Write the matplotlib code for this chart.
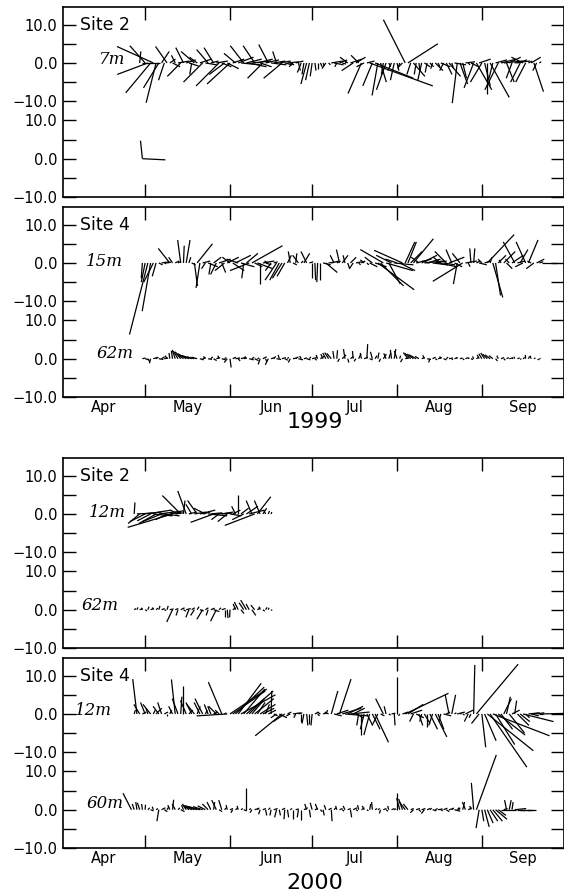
import numpy as np
import matplotlib.pyplot as plt
from matplotlib.collections import LineCollection

# vertical shift of the shallow record inside each panel
OFFSET = 25

month_names = ['Apr', 'May', 'Jun', 'Jul', 'Aug', 'Sep']
month_starts = [0, 30, 61, 91, 122, 153, 183]   # days since 1 April

ytick_pos = [-10, -5, 0, 5, 10, 15, 20, 25, 30, 35]
ytick_lab = ['\u221210.0', '', '0.0', '', '10.0', '\u221210.0', '', '0.0', '', '10.0']

# stick vectors (u east, v north), one per day starting at *_start (day 0 = 1 April)
site2_1999_7m_start = 28
site2_1999_7m_uv = [
    (0.3, 3.0), (4.5, 0), (-4, 4.5), (-8, -3), (-6.5, -7.8), (-9.5, 4.3), (-2.6, -10.4), (-4, -6.5), (2, 3), (-1.5, -4.5),
    (-3, 4.3), (1.5, 1), (2, -1), (-1, 2), (3, 0.5), (-3.5, -3.5), (-2, 4), (2.5, 0.8), (2.5, -0.8), (-0.5, -3),
    (-3.5, 3), (-2, 1.5), (3, 1), (-5, -5), (3, -0.5), (-3, 3.5), (2, 0.5), (-2.5, 4), (3, 0.5), (-6, -6),
    (2.5, -1), (-4, -3), (3, -1.5), (-6, -5.5), (3, 1), (-3, 2.5), (4, 1.5), (5, -0.5), (-3.5, 4.5), (4, 1),
    (4.5, -1), (5, 0.5), (-3, 4.5), (4, 1), (3, -1), (-4, -4), (3.5, 0.8), (-2.5, 4.8), (4, -0.5), (3, 0.5),
    (-1, 3), (3, 0.5), (-4.8, -4), (2, -0.5), (3, 0.3), (1, -0.5), (-1, -1), (2, 0.5), (0.5, -2), (-1, -2.5),
    (-0.5, -3), (-1.5, -5.5), (-1, -4.5), (-0.5, -3.5), (0.3, -2), (0, -1.5), (0.5, -1), (0.3, -0.8), (-1, -1.5), (0.5, -0.5),
    (3, 0.5), (2.5, -0.5), (-0.5, -1), (2, 0.8), (1, -0.3), (0.5, 0.3), (-2, 1.5), (3, 1), (-3, -2), (2.5, 1.5),
    (-2, 2), (-3.5, -8), (-2, -1), (2, 0.5), (16.5, -6), (-2.5, -6), (10, -4), (-1.5, -8.5), (1.5, -5), (-0.5, -3),
    (-2.5, -7), (0.5, -1), (-1, -2), (-1, -4.5), (0.5, -2), (-0.5, -1.5), (-1, -1), (-5.7, 11.3), (7.8, 5), (-1, -3),
    (3, -3.5), (-0.5, -3), (0.3, -2), (-1, -4.5), (1.5, -1), (-0.5, -2.5), (1, -1), (-0.5, -1.5), (2, -2), (0.5, -1),
    (2.5, -1), (-1, -2), (1.5, -3), (3, -3.5), (0.5, -1.5), (3, -0.5), (-1.3, -10.5), (2, -5.5), (1, -4), (2.5, 0.3),
    (0.5, -0.5), (2, -1), (-2.5, -6.5), (4, -7), (3, 1), (-3, -5), (1.5, -6), (0, -8), (5, -9), (-1, -4),
    (3, 0.8), (-3.5, -7), (4, 1), (5, 0.5), (2, -5), (3, 1.5), (-1.5, -4), (4, 0.5), (2.5, 0.8), (-2.5, -5),
    (-3, 1.5), (-2.6, -5), (1, 0.5), (2.5, 1.5), (2.5, -7.5), (-1, -2), (0.5, 0.3),
]

# deep instrument at site 2 in 1999: only two records
site2_1999_deep_days = [29, 29]
site2_1999_deep_uv = [(-0.5, 4.7), (6, -0.3)]

site4_1999_15m_start = 29
site4_1999_15m_uv = [
    (-0.3, -4), (-1, -5), (-4.8, -18.7), (-2.2, -12.6), (-2.5, -5), (-1, -3.5), (1, -0.5), (2, 0.3), (0.5, 0), (1, 0.2),
    (-3, 3.8), (-1, 1.5), (1, 0.5), (0.5, 0.3), (-0.8, 6), (0.2, 4.5), (1, 6), (0.5, 1.5), (1, -0.5), (0.8, -6),
    (4, 5), (-1, -6.5), (2, 0.5), (-1, -1.5), (2.5, -1), (-0.5, -3), (2, 1.5), (-1.5, -3), (3, 1), (1, -2.5),
    (-2.5, -2), (3, 1.5), (-2, 1.5), (3, -2), (4, 2), (-3, 1), (3.5, -1), (-0.5, -4), (3, 2.5), (-5, -2),
    (8, 4.5), (2, -1), (4, -1.5), (0, -5.5), (3, 0.5), (1.5, -0.5), (-1, 0.5), (-1.5, -2), (1, 0.3), (-3, -4.5),
    (-2.5, -4.5), (-2.5, -4), (-2, -3.5), (1, 2), (-0.5, 3), (1, -0.5), (0.3, 2.5), (-1.5, 2), (0.5, 0.5), (1.5, 2.5),
    (-1.5, 3), (1, 0.3), (0, -4), (0.2, -4.5), (-0.2, -5), (0, -4.5), (2, -0.5), (3, -2.5), (1.5, 0.2), (2, 0.5),
    (-1, 2), (1, 0.5), (-0.8, 3.5), (1.5, 2), (-0.5, 2), (0.5, -1.5), (1.5, 1.5), (-1, -1.5), (1.5, 0.3), (0.5, -0.5),
    (1, 0.5), (-1, 0.8), (0.5, -0.5), (2, -1), (-2, 1.5), (3, -1), (9.5, -7), (6, -6), (-6, 3.5), (7, -2),
    (3, -5.5), (-4, 2), (5, -0.5), (-3, 1), (4, -2), (-7.4, 3.3), (2.5, 5.5), (2.2, 5.5), (3, 3), (5.2, 6.3),
    (4, 1), (-2, 1.5), (4, 2), (5, 0.5), (3.5, 1), (-2, 0.5), (4, -0.5), (3, 0.5), (5, -1), (-2, 1.5),
    (3, -0.5), (-3, 3), (4, 1.5), (-1.5, 3.5), (2, -1), (-1, -5.5), (-2, 2.5), (-7.8, -4.8), (3, 0.5), (0.5, -1),
    (-0.3, 3.8), (0.3, 3.8), (1, 0.5), (2, -0.5), (-1, 1), (1.5, 0.5), (7, 7.4), (0.5, 1.5), (2.6, -9), (1.3, -8.5),
    (2, 2), (-0.5, 0.8), (3, 3), (1.5, -1.5), (-1, 1), (3, 2), (-3, 5.5), (2, 0.5), (2, 3.5), (-2, -1),
    (-2.5, 5.5), (2.5, 6), (-1, 0.5), (-2, -1.5), (2, 1), (1, 0.3), (4, 0),
]

site4_1999_62m_start = 29
site4_1999_62m_uv = [
    (0.8, 0.2), (1, -0.3), (0.5, -0.8), (-0.3, -1.2), (1, 0.3), (0.6, 0.4), (1.2, -0.2), (0.8, 0.5), (1, 0.2), (-0.5, 0.8),
    (-0.2, 1.5), (-0.3, 2), (-0.8, 2.3), (-1.2, 2), (-1.5, 1.8), (-2, 1.5), (-2.2, 1.3), (-2.5, 1), (-2.5, 0.8), (-2, 0.5),
    (-1.5, 0.4), (1, -0.3), (0.8, 0.3), (-0.5, 0.6), (1, -0.2), (0.5, 0.5), (0.8, -0.5), (1, 0.3), (-0.3, 0.8), (1, -0.3),
    (0.5, 0.3), (-0.8, -1), (0.3, -2.3), (0.8, 0.4), (1.2, 0.2), (0.5, -0.6), (1, 0.3), (0.8, 0.2), (-0.4, 0.6), (1.2, -0.3),
    (0.6, 0.4), (1, -0.5), (0.5, 0.2), (-0.5, -1.5), (1, 0.5), (0.3, -0.8), (-0.8, -1.6), (1, 0.3), (0.5, 0.6), (1.2, -0.2),
    (-0.3, 1), (1, 0.3), (0.8, -0.4), (0.3, 0.4), (-0.5, -1), (1, 0.2), (0.7, 0.5), (1.2, -0.3), (-0.4, 0.7), (0.8, 0.2),
    (1, -0.3), (0.4, 0.5), (1.2, 0.3), (0.5, -0.4), (-0.4, 1), (1, 0.6), (-0.6, 1.2), (-0.8, 1.5), (-1, 1.6), (-1.2, 1.4),
    (-0.3, 2), (0.2, 2.2), (-0.5, -0.8), (1, 1), (-0.4, 2.5), (0.3, -1), (0.8, 0.6), (-0.2, 2), (-0.5, -0.7), (0.6, 1.3),
    (-0.3, 1.5), (1, 0.4), (0.2, 3.8), (0.8, -0.3), (-0.5, 1.8), (0.5, 0.8), (0.3, 1.6), (-0.4, -0.8), (0.8, 1.2), (-0.6, 1.4),
    (0.5, 1.5), (-0.3, 2.3), (0.4, 2.5), (-0.7, 2), (0.2, 0.8), (-0.5, -0.9), (1, 0.2), (-1.2, 1.6), (-1.5, 1.4), (-1.6, 1.2),
    (-1.8, 1), (-1, 0.6), (0.8, 0.3), (-0.4, 0.9), (1, -0.2), (-0.3, -1), (0.8, 0.4), (0.5, -0.3), (1, 0.3), (-0.3, 0.6),
    (0.8, -0.3), (0.5, 0.4), (1, 0.2), (0.3, -0.3), (0.8, 0.3), (-0.2, 0.3), (0.7, 0.2), (0.4, -0.3), (0.8, 0.3), (0.3, 0.2),
    (0.6, -0.2), (-0.3, 0.6), (0.5, 0.3), (-0.5, 1), (-0.8, 1.3), (-1, 1.5), (-1.2, 1.2), (-1.3, 1), (-1, 0.8), (0.5, -0.6),
    (-0.4, 0.8), (0.8, 0.3), (0.4, -0.4), (0.6, 0.3), (1, 0.2), (0.3, 0.2), (-0.2, 0.5), (0.6, 0.2), (0.3, -0.2), (0.5, 0.3),
    (-0.1, 1), (0.3, 0.6), (-0.3, 0.8), (0.4, 0.2), (0.6, 0), (0.3, 0.1),
]

site2_2000_12m_start = 26
site2_2000_12m_uv = [
    (0.2, 3), (4, 0.2), (-3, -2.5), (5, 0.5), (-4, -2), (6, 1), (-3.5, -1.8), (5, -0.5), (-4.5, -2.5), (6.5, 0.8),
    (-5, -2), (4, -0.5), (-3, -1.5), (3, 0.5), (-11.7, -3.5), (2, 0.3), (-2, 1), (-4.8, 4.8), (0.4, 3.5), (-2.2, 6),
    (2, 0.5), (-1.5, 2.5), (3, 0.5), (-2.5, 3.5), (4, 1), (2, 0.5), (-3, 1.5), (5, -0.5), (3, 0.3), (-6, -2.2),
    (4, 0.2), (-2, -1.5), (3, 0.5), (1, 0.2), (-2.5, -2), (3, -0.5), (2, 1), (-1, 2), (0, 5), (2, 1.5),
    (-3, -1.5), (3, 2), (4, 1), (-1.5, 3.5), (-7.8, -3), (3.5, 4.5), (-1.5, 3.5), (1, 1.5), (-0.5, 1), (0.3, 0.8),
    (0.2, 0.5),
]

site2_2000_62m_start = 26
site2_2000_62m_uv = [
    (0.5, 0.3), (0.3, 0.6), (0.8, 0.2), (-0.3, 0.5), (0.5, -0.3), (0.3, 0.8), (0.8, 0.3), (-0.2, 0.6), (0.5, 0.4), (0.3, 1),
    (0.8, 0.3), (0.5, -0.2), (0.3, 1), (1, 0.2), (-1.5, -3.2), (0.8, 0.3), (-0.5, -1.5), (1, 0.5), (0.6, -0.4), (1.2, 0.3),
    (-0.8, -2), (0.8, 0.5), (-1, -1.5), (0.5, 0.8), (1, -0.3), (-1.5, -2.5), (0.8, 0.5), (-0.5, -1.5), (1, 0.4), (1.5, -0.5),
    (-1.5, -3), (0.5, 0.5), (1, 0.3), (0, -2), (0.2, -2.2), (-0.1, -2), (0.8, 0.5), (-0.6, 1.5), (-1, 2), (0.8, -1),
    (-1.2, 1.8), (-1.5, 2.5), (-0.8, 1.5), (1, -1.5), (-1, 1.2), (0.8, 0.5), (-0.3, 0.8), (0.5, -0.4), (0.4, 0.6), (0.2, 0.5),
    (0.3, -0.2),
]

site4_2000_12m_start = 26
site4_2000_12m_uv = [
    (0.3, 1), (-1.1, 9.1), (-1.5, 2.5), (1, 0.5), (-1.2, 3), (-0.5, 1.5), (-2, 2.5), (0.5, 1), (1.5, 1.5), (-1.5, 2),
    (-1, 3), (1, 0.5), (0, -0.5), (0.5, 1), (-1, 2), (-1, 9), (-1.5, 4), (0.3, 4.5), (0, 7.4), (-1.5, 3.5),
    (1, 1), (-1.5, 3), (-2, 2.5), (0.8, 2), (-1.5, 3), (-2, 4), (0.5, 1), (-1, 2.5), (-0.8, 2), (1, 0.5),
    (-2, 2), (-1, 1), (-3.5, 8.3), (0.5, 0.3), (-8, -0.5), (9.6, 6.5), (8.5, 6), (7.5, 7), (6, 8), (9, 5),
    (5.5, 6.5), (7, 6), (4, 4), (3, 3.5), (5, 4), (2, 3), (4, 2.5), (3, 1.5), (1, 2.5), (2, 1),
    (0.2, 6), (1, -0.5), (-1.5, -1), (2, -1), (-7, -5.7), (-3, -2), (1, 0.5), (-1, -0.5), (2, 0.3), (-0.5, -1),
    (1, 0.3), (0, -2), (-0.5, -2.5), (0.3, -3), (0, -2.5), (-0.3, -3), (1, 0.5), (0.5, -0.5), (-0.8, 0.5), (1, 0.3),
    (0.5, 1), (-1, 0.5), (1.7, 6), (2, -0.5), (3, 1), (3, 9.1), (5, 1.5), (6, -0.5), (4, 2), (5, 0.5),
    (3, 1.5), (2, -1), (-0.5, -3), (0, -5.5), (-1, -4), (1.5, -3), (-1.5, -5.5), (2, -4), (3.5, -7.4), (-1.5, -3),
    (1, -0.5), (-2, 4), (-0.5, 2), (0.5, -0.3), (1, 0.2), (0.2, -3), (0, 9.6), (-0.3, -0.5), (1.5, 0.5), (11.3, 5.4),
    (4, 2.5), (3, 1), (-1, -2), (2, -1), (1, -3), (-0.5, -2), (1.5, -2.5), (0, -3.5), (2, -4), (-1, -3),
    (3, -6), (1.5, -4), (-0.5, -2), (2, -0.5), (1, 0.5), (-1, 5), (1, 5), (0.5, 0.3), (2, 0.5), (0.5, 0.2),
    (0.5, -0.3), (2, 1), (-1, -2), (-0.5, -1), (0.3, 12.8), (10.9, 13), (-2, -2.5), (1, -8.7), (3, -7), (12, -9.6),
    (9.6, -13.9), (14.8, -5.7), (5, -8), (7, -5.5), (3, -4), (2, 4), (1, 4.5), (4, -5), (2, 1), (0.5, 3.5),
    (3, -3), (2.5, -2), (8, -2), (1, -1), (3, 0.3), (2, -0.5), (1, 0.2), (2, 0.3), (1, 0), (8, 0.2),
]

site4_2000_60m_start = 25
site4_2000_60m_uv = [
    (-2.2, 4.3), (-0.5, 1.5), (-0.3, 2), (-0.6, 1.8), (-0.2, 1.5), (0.1, 1.3), (0.5, 0.5), (0.8, -0.3), (-0.3, 0.8), (0.5, 0.3),
    (-0.5, -3), (1, 0.5), (0.8, -0.5), (0.5, 0.8), (-0.5, 1.2), (0.3, 2.6), (-0.8, 1.5), (0.5, 0.5), (1, -0.5), (-0.5, 1.2),
    (-1, 1.5), (-1.5, 1.2), (-2, 1), (-2.5, 1), (-3, 1), (-3, 0.8), (-2.5, 0.8), (-2, 1), (-1.5, 1.5), (-1, 2),
    (0.3, 2), (-1.2, 2.5), (0.8, -0.5), (-0.8, 2.5), (0.5, 0.5), (-0.3, 1.2), (0.8, 0.3), (-0.5, -0.8), (0.6, 0.4), (-0.3, 1),
    (0.5, 0.3), (0.8, -0.3), (0, 5.7), (0.5, 0.3), (-0.5, -0.8), (1, 0.3), (0.5, 0.5), (-0.4, -1.2), (0.8, 0.3), (0.3, -1.5),
    (0.5, 0.5), (-0.3, -1.5), (1, 0.3), (-0.5, -2), (0.3, -1.5), (0.8, 0.4), (-0.2, -2.5), (0.3, -2), (0.5, 0.3), (0, -2.5),
    (0.8, 0.2), (-0.3, -2), (0, -2.8), (1, 0.5), (-0.5, 1.5), (0.3, -2), (-0.5, 1.8), (0.8, 0.3), (-0.6, 1.5), (0.5, -0.5),
    (0.3, -1.5), (-0.4, 1.2), (0.8, 0.4), (0.2, -3), (0.5, 0.5), (-0.3, 1), (0.8, 0.3), (0.5, -0.4), (-0.5, 1), (0.8, 0.3),
    (0.3, -2), (1, 0.5), (0.5, -0.3), (-0.3, 1.2), (0.8, 0.5), (-0.5, 1), (0.4, -0.3), (0.3, 1.5), (-0.2, 2), (0.5, 0.3),
    (0.5, 0.3), (-0.3, -1), (0.8, 0.3), (0.5, -0.4), (-0.3, 1), (0.8, 0.3), (0.5, 0.2), (0, 4.3), (-0.8, 3), (-1, 2.8),
    (-1.5, 2), (-1.2, 1.5), (0.8, 0.3), (-0.8, -0.8), (1, 0.3), (0.5, -0.5), (1, 0.3), (-0.8, -1), (0.8, 0.3), (0.5, 0.4),
    (1, -0.3), (0.6, 0.3), (1.2, 0.2), (0.5, -0.3), (1, 0.4), (0.8, -0.5), (1.2, 0.3), (0.5, 0.5), (1.5, -0.4), (0.8, 0.5),
    (-0.5, 0.5), (0.5, 2), (-0.8, 2), (1, 0.5), (-0.3, 1), (-0.6, 7), (5.2, 14.3), (-0.8, -4.8), (0.5, -3), (1.2, -4.5),
    (1.5, -3.5), (2, -3), (2.5, -3), (3, -2.5), (2, -1.5), (4, 0), (1, 0.3), (-0.5, 2.5), (0.5, 2.5), (0.3, 2),
    (3, 0.3), (2, 0), (1, 0), (2, 0), (1, 0), (2, 0), (0.5, 0),
]


def days_from(start, uv):
    return start + np.arange(len(uv))


def sticks(ax, days, uv, base):
    # scale u so that a stick keeps its true direction on screen
    bb = ax.get_window_extent()
    x0, x1 = ax.get_xlim()
    y0, y1 = ax.get_ylim()
    k = (bb.height / (y1 - y0)) / (bb.width / (x1 - x0))
    segs = [[(t, base), (t + k * u, base + v)] for t, (u, v) in zip(days, uv)]
    ax.add_collection(LineCollection(segs, colors='k', linewidths=0.9))


fig = plt.figure(figsize=(5.64, 8.96), dpi=100)
W, H = 564.0, 896.0

panels = [
    dict(top=7, site='Site 2', labels=False,
         series=[(days_from(site2_1999_7m_start, site2_1999_7m_uv), site2_1999_7m_uv, OFFSET),
                 (site2_1999_deep_days, site2_1999_deep_uv, 0)],
         depths=[('7m', 18, 26)]),
    dict(top=207, site='Site 4', labels=True,
         series=[(days_from(site4_1999_15m_start, site4_1999_15m_uv), site4_1999_15m_uv, OFFSET),
                 (days_from(site4_1999_62m_start, site4_1999_62m_uv), site4_1999_62m_uv, 0)],
         depths=[('15m', 15, 25.5), ('62m', 19, 1.3)]),
    dict(top=458, site='Site 2', labels=False,
         series=[(days_from(site2_2000_12m_start, site2_2000_12m_uv), site2_2000_12m_uv, OFFSET),
                 (days_from(site2_2000_62m_start, site2_2000_62m_uv), site2_2000_62m_uv, 0)],
         depths=[('12m', 16.2, 25.5), ('62m', 13.5, 1.0)]),
    dict(top=658, site='Site 4', labels=True,
         series=[(days_from(site4_2000_12m_start, site4_2000_12m_uv), site4_2000_12m_uv, OFFSET),
                 (days_from(site4_2000_60m_start, site4_2000_60m_uv), site4_2000_60m_uv, 0)],
         depths=[('12m', 11.2, 25.8), ('60m', 15.5, 1.5)]),
]

month_mids = [(a + b) / 2 for a, b in zip(month_starts[:-1], month_starts[1:])]

for p in panels:
    ax = fig.add_axes([63 / W, 1 - (p['top'] + 190) / H, 501 / W, 190 / H])
    ax.set_xlim(month_starts[0], month_starts[-1])
    ax.set_ylim(-10, -10 + 190 / 3.83)
    for days, uv, base in p['series']:
        sticks(ax, days, uv, base)

    ax.set_xticks(month_starts[1:-1])
    ax.set_xticklabels([])
    ax.set_xticks(month_mids, labels=month_names, minor=True)
    ax.tick_params(axis='x', which='major', direction='in', length=9.5, width=1.0,
                   top=True, bottom=True)
    ax.tick_params(axis='x', which='minor', length=0, labelsize=10.5, pad=2,
                   labelbottom=p['labels'])
    ax.set_yticks(ytick_pos, labels=ytick_lab)
    ax.tick_params(axis='y', direction='in', length=9.5, width=1.0,
                   left=True, right=True, labelsize=10.5, pad=4)
    for s in ax.spines.values():
        s.set_linewidth(1.2)

    ax.text(6.2, OFFSET + 10, p['site'], fontsize=12.5, ha='left', va='center')
    for name, x, y in p['depths']:
        ax.text(x, y, name, fontsize=12, family='DejaVu Serif', style='italic',
                ha='center', va='center')

fig.text(315 / W, 1 - 422 / H, '1999', fontsize=16, ha='center', va='center')
fig.text(315 / W, 1 - 883 / H, '2000', fontsize=16, ha='center', va='center')

fig.savefig('out.png', dpi=100)
